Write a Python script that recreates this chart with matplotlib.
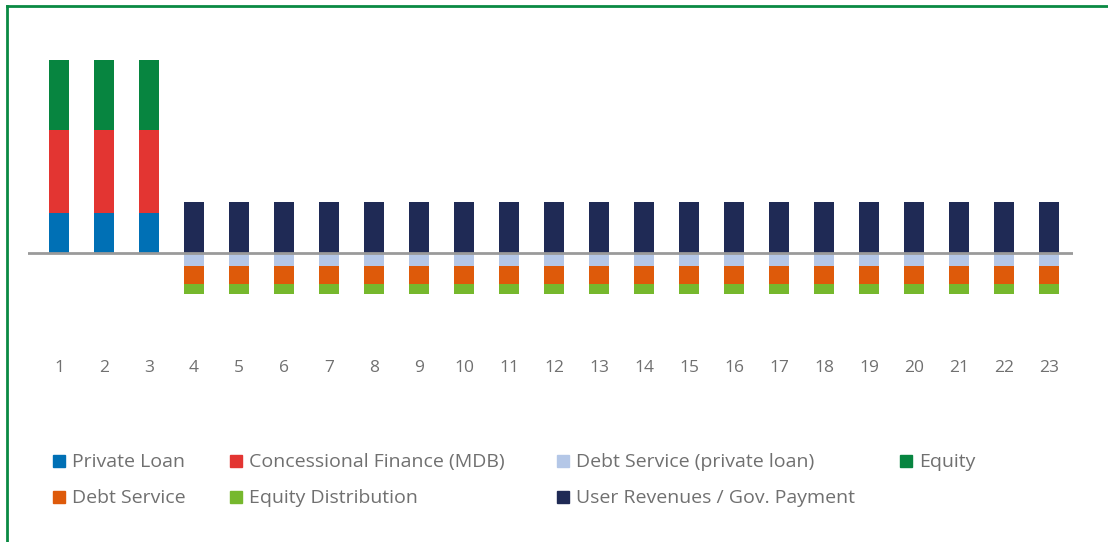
import numpy as np
import matplotlib.pyplot as plt
from matplotlib.patches import Rectangle
from matplotlib.lines import Line2D

plt.rcParams['font.family'] = ['Open Sans', 'DejaVu Sans']

years = np.arange(1, 24)
# construction phase (years 1-3) funding sources
private_loan = [4.0, 4.0, 4.0] + [0] * 20
concessional = [8.3, 8.3, 8.3] + [0] * 20
equity = [7.0, 7.0, 7.0] + [0] * 20
# operating phase (years 4-23)
revenues = [0, 0, 0] + [5.1] * 20
debt_private = [0, 0, 0] + [-1.3] * 20
debt_service = [0, 0, 0] + [-1.8] * 20
equity_dist = [0, 0, 0] + [-1.0] * 20

colors = {
    'Private Loan': '#0070b5',
    'Concessional Finance (MDB)': '#e33532',
    'Debt Service (private loan)': '#b4c7e7',
    'Equity': '#078540',
    'Debt Service': '#de5a0a',
    'Equity Distribution': '#76b82d',
    'User Revenues / Gov. Payment': '#1f2a55',
}

W, H = 1108, 542
fig = plt.figure(figsize=(W / 100, H / 100), dpi=100)
ax = fig.add_axes([28 / W, 1 - 320 / H, (1073 - 28) / W, 280 / H])

bw = 0.444
pl = np.array(private_loan)
cf = np.array(concessional)
ax.bar(years, pl, bw, color=colors['Private Loan'])
ax.bar(years, cf, bw, bottom=pl, color=colors['Concessional Finance (MDB)'])
ax.bar(years, equity, bw, bottom=pl + cf, color=colors['Equity'])
ax.bar(years, revenues, bw, color=colors['User Revenues / Gov. Payment'])
dp = np.array(debt_private)
ds = np.array(debt_service)
ax.bar(years, dp, bw, color=colors['Debt Service (private loan)'])
ax.bar(years, ds, bw, bottom=dp, color=colors['Debt Service'])
ax.bar(years, equity_dist, bw, bottom=dp + ds, color=colors['Equity Distribution'])

ax.axhline(0, color='#9a9a9a', lw=2, zorder=3)
ax.set_xlim(0.311, 23.533)
ax.set_ylim(-6.7, 21.3)
for s in ax.spines.values():
    s.set_visible(False)
ax.set_yticks([])
ax.set_xticks(years)
ax.set_xticklabels([str(y) for y in years], fontsize=12.5, color='#707070')
ax.tick_params(axis='x', length=0, pad=28.5)

# legend laid out in two rows
legend_rows = [
    [('Private Loan', 53), ('Concessional Finance (MDB)', 230),
     ('Debt Service (private loan)', 557), ('Equity', 900)],
    [('Debt Service', 53), ('Equity Distribution', 230),
     ('User Revenues / Gov. Payment', 557)],
]
for row_y, row in zip([461, 497], legend_rows):
    for name, x in row:
        fig.add_artist(Rectangle((x / W, 1 - (row_y + 6) / H), 12 / W, 12 / H,
                                 transform=fig.transFigure, color=colors[name]))
        fig.text((x + 19) / W, 1 - (row_y + 1) / H, name, fontsize=14, color='#707070',
                 va='center', ha='left')

# green frame on top and left edges
fig.add_artist(Line2D([7 / W, 1], [1 - 5.5 / H, 1 - 5.5 / H], color='#0a8a43', lw=2,
                      transform=fig.transFigure))
fig.add_artist(Line2D([7 / W, 7 / W], [0, 1 - 5.5 / H], color='#0a8a43', lw=2,
                      transform=fig.transFigure))

fig.savefig('out.png', dpi=100, facecolor='white')
